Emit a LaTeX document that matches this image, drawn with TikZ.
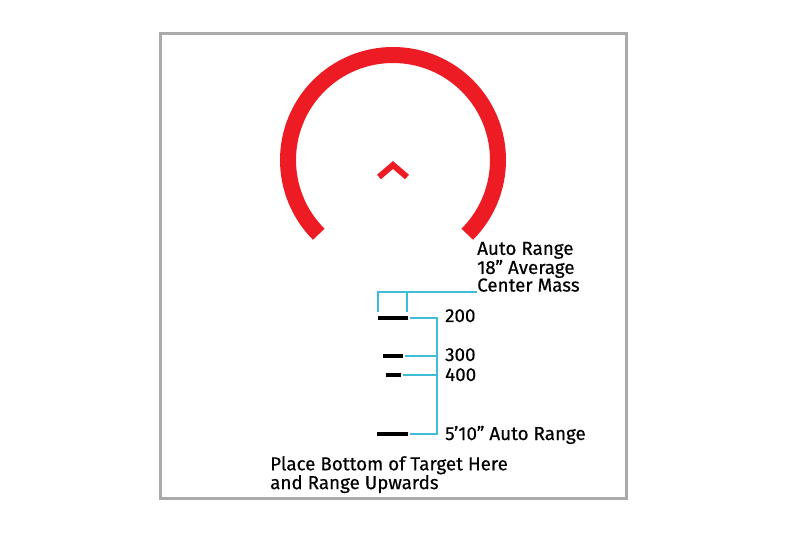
\documentclass[tikz,border=0pt]{standalone}
\usepackage{fontspec}
\setmainfont[FakeBold=0.4]{Fira Sans}
\usetikzlibrary{positioning}

\definecolor{dotred}{RGB}{237,28,36}
\definecolor{scalecyan}{RGB}{64,188,214}
\definecolor{framegray}{RGB}{170,170,170}

\begin{document}
\begin{tikzpicture}[x=1pt,y=-1pt,
    every node/.style={inner sep=0pt,font=\fontsize{18.8}{18.8}\selectfont},
    rangebar/.style={fill=black,minimum height=4pt,minimum width=#1},
    scale line/.style={draw=scalecyan,line width=2pt},
    rangelabel/.style={anchor=base west}]

  \useasboundingbox (0,0) rectangle (800,534);
  \draw[framegray,line width=3pt] (160,34) rectangle (626,498);

  % reticle: horseshoe and chevron
  \draw[dotred,line width=16pt] (393,160) ++(225:105pt)
    arc[start angle=225,end angle=-45,radius=105pt];
  \draw[dotred,line width=6pt,line join=miter] (379,177) -- (393,165) -- (407,177);

  % range bars
  \node[rangebar=30pt] (b200) at (393,318)   {};
  \node[rangebar=20pt] (b300) at (393,356)   {};
  \node[rangebar=15pt] (b400) at (393.5,374.5) {};
  \node[rangebar=31pt] (b510) at (392.5,434) {};
  \coordinate (spine) at (437,0);

  % texts
  \node[anchor=south west,align=left,font=\fontsize{18.8}{17.6}\selectfont]
    (auto) at (477,292) {Auto Range\\18'' Average\\Center Mass};
  \node[rangelabel] (l200) at (445,322) {200};
  \node[rangelabel] (l300) at (445,361) {300};
  \node[rangelabel] (l400) at (445,381) {400};
  \node[rangelabel] (l510) at (445,440) {5'10'' Auto Range};
  \node[anchor=north west,align=left] (place) at (270,456)
    {Place Bottom of Target Here\\and Range Upwards};

  % scale lines
  \draw[scale line] ([yshift=4pt]b200.north west) |- (auto.south west);
  \draw[scale line] ([xshift=-1pt,yshift=4pt]b200.north east)
    -- ([xshift=-1pt]b200.north east |- auto.south west);
  \draw[scale line,shorten <=2pt,shorten >=2pt]
    (b200.east) -- (b200 -| spine) -- (b510 -| spine) -- (b510.east);
  \draw[scale line,shorten <=2pt] (b300.east) -- (b300 -| spine);
  \draw[scale line,shorten <=2pt] (b400.east) -- (b400 -| spine);
\end{tikzpicture}
\end{document}
